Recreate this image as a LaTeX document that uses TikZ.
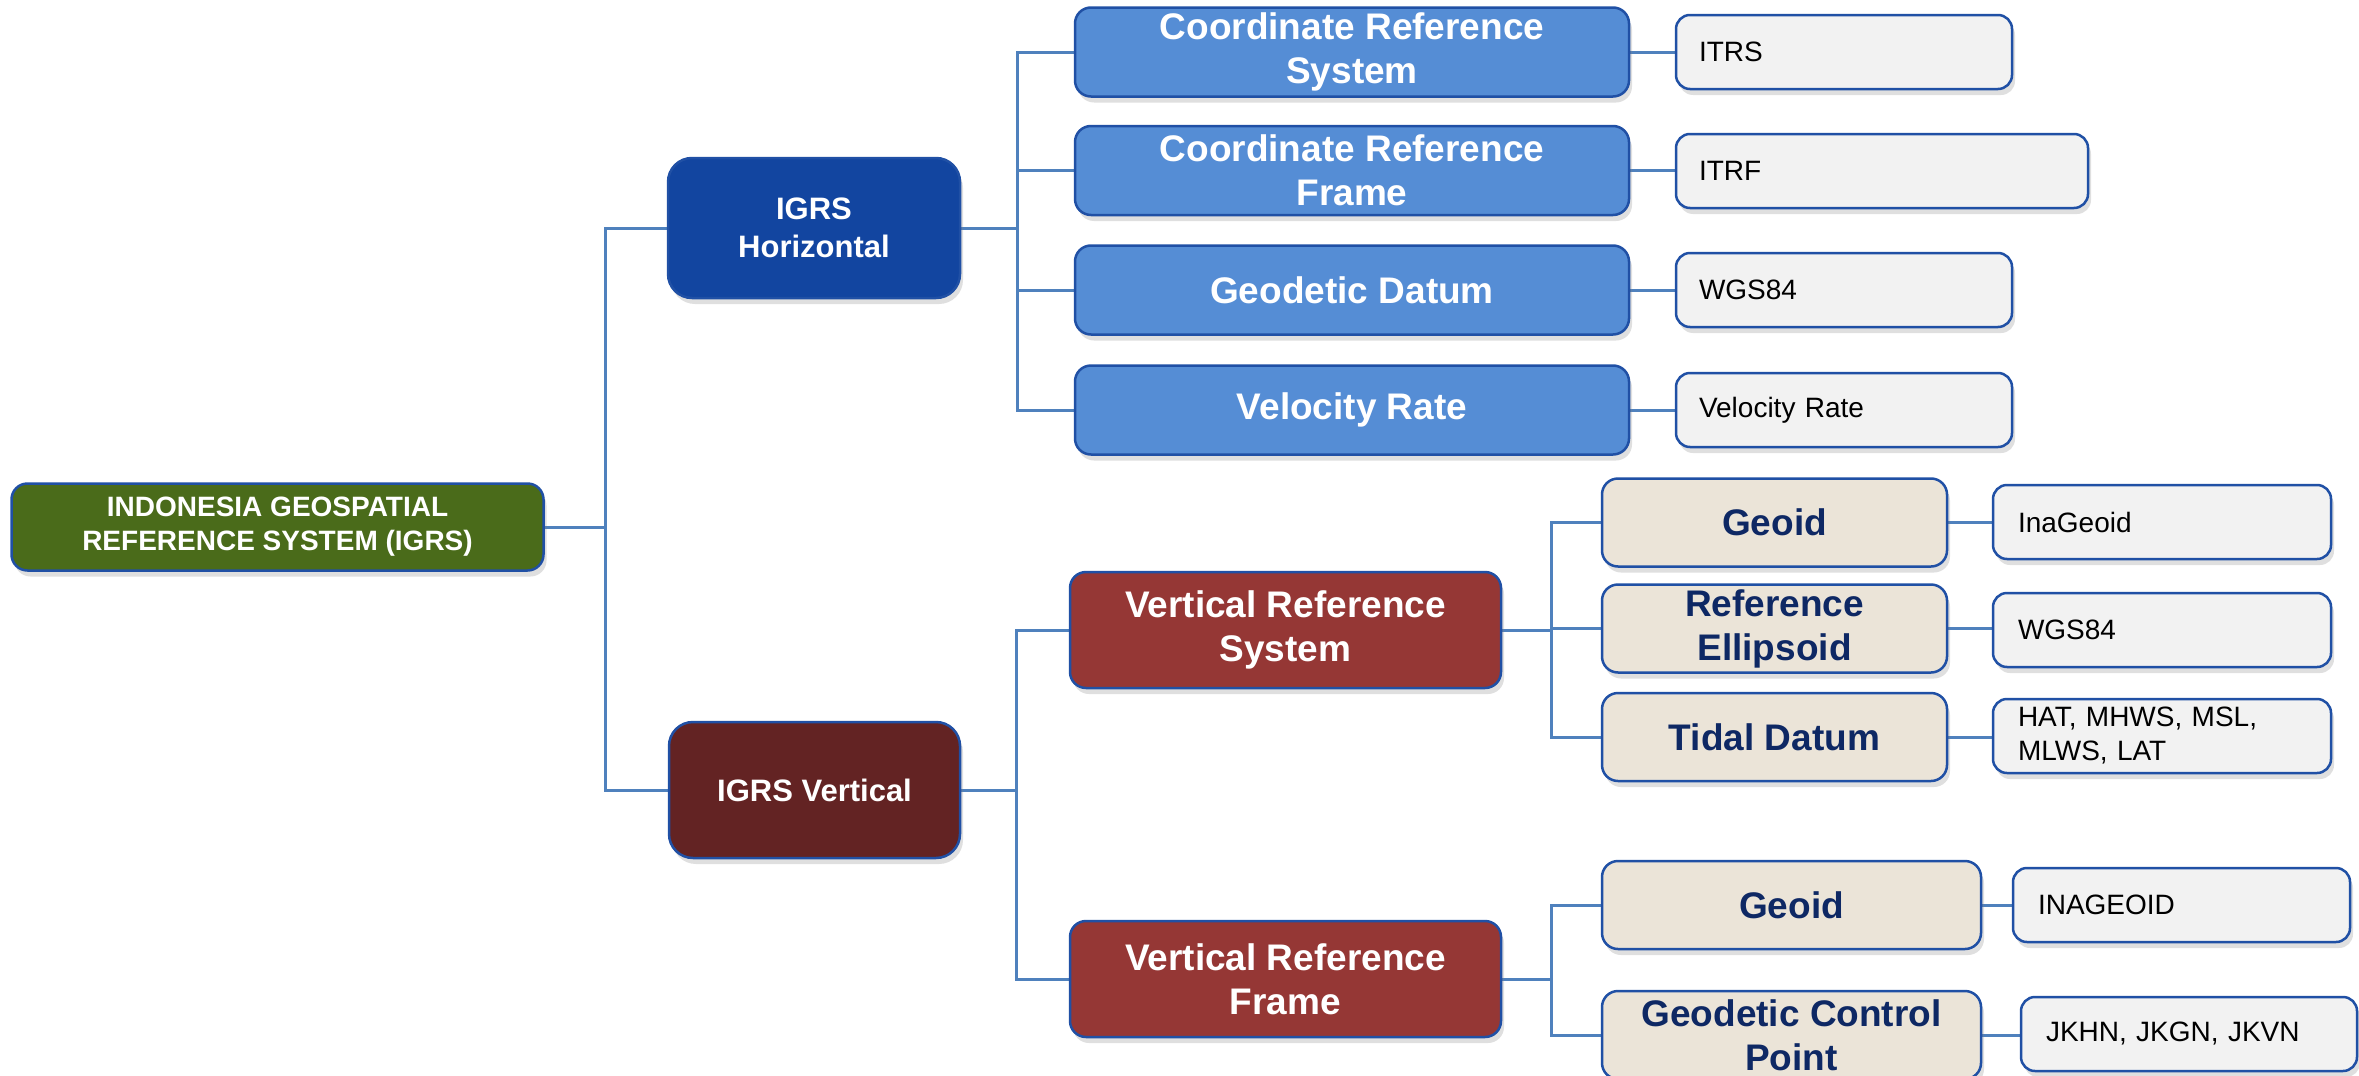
\documentclass[tikz,border=0pt]{standalone}
\usepackage{fontspec}
\setmainfont{Liberation Sans}
\usetikzlibrary{shadows,backgrounds}
\definecolor{bordblue}{RGB}{32,80,165}
\definecolor{linkblue}{RGB}{79,129,189}
\definecolor{rootgreen}{RGB}{74,107,26}
\definecolor{horblue}{RGB}{18,69,160}
\definecolor{vermaroon}{RGB}{99,35,35}
\definecolor{lightblue}{RGB}{85,141,213}
\definecolor{redbrown}{RGB}{149,55,53}
\definecolor{beige}{RGB}{235,228,216}
\definecolor{palegray}{RGB}{242,242,242}
\definecolor{navytext}{RGB}{14,40,100}
\tikzset{
  box/.style={draw=bordblue, line width=2.5pt, rounded corners=16pt, inner sep=0pt,
    align=center, drop shadow={opacity=0.25, shadow xshift=3pt, shadow yshift=-6pt}},
  rootbox/.style={box, fill=rootgreen, text=white, font=\fontsize{28}{34}\selectfont\bfseries},
  igrsbox/.style={box, rounded corners=24pt, text=white, font=\fontsize{31}{38}\selectfont\bfseries},
  bluebox/.style={box, fill=lightblue, text=white, minimum width=554pt, minimum height=89pt,
    font=\fontsize{37}{44}\selectfont\bfseries},
  redbox/.style={box, fill=redbrown, text=white, minimum width=431pt, minimum height=116pt,
    font=\fontsize{37}{44}\selectfont\bfseries},
  beigebox/.style={box, fill=beige, text=navytext, minimum height=88pt,
    font=\fontsize{37}{44}\selectfont\bfseries},
  graybox/.style={box, rounded corners=14pt, fill=palegray, text=black, minimum height=74pt,
    align=left, font=\fontsize{28}{34}\selectfont},
  conn/.style={draw=linkblue, line width=3pt}
}
\begin{document}
\begin{tikzpicture}[x=1pt,y=-1pt]
\useasboundingbox (0,0) rectangle (2359,1076);
% level 0
\node[rootbox, minimum width=532pt, minimum height=87pt] (root) at (277.5,527) {INDONESIA GEOSPATIAL\\REFERENCE SYSTEM (IGRS)};
% level 1
\node[igrsbox, fill=horblue, minimum width=292pt, minimum height=140pt] (hor) at (814,228) {IGRS\\Horizontal};
\node[igrsbox, fill=vermaroon, minimum width=291pt, minimum height=136pt] (ver) at (814.5,790) {IGRS Vertical};
% horizontal branch
\node[bluebox] (crs) at (1352,52) {Coordinate Reference\\System};
\node[bluebox] (crf) at (1352,170.5) {Coordinate Reference\\Frame};
\node[bluebox] (gd) at (1352,290) {Geodetic Datum};
\node[bluebox] (vr) at (1352,410) {Velocity Rate};
\node[graybox, minimum width=336pt, text width=290pt] (itrs) at (1844,52) {ITRS};
\node[graybox, minimum width=412pt, text width=366pt] (itrf) at (1882,171) {ITRF};
\node[graybox, minimum width=336pt, text width=290pt] (wgsa) at (1844,290) {WGS84};
\node[graybox, minimum width=336pt, text width=290pt] (vrg) at (1844,410) {Velocity Rate};
% vertical branch
\node[redbox] (vrs) at (1285.5,630) {Vertical Reference\\System};
\node[redbox] (vrf) at (1285.5,979) {Vertical Reference\\Frame};
\node[beigebox, minimum width=345pt] (geoa) at (1774.5,522.5) {Geoid};
\node[beigebox, minimum width=345pt] (refell) at (1774.5,628.5) {Reference\\Ellipsoid};
\node[beigebox, minimum width=345pt] (tidal) at (1774.5,737) {Tidal Datum};
\node[beigebox, minimum width=379pt] (geob) at (1791.5,905) {Geoid};
\node[beigebox, minimum width=379pt] (gcp) at (1791.5,1035) {Geodetic Control\\Point};
\node[graybox, minimum width=338pt, text width=288pt] (inaa) at (2162,522) {InaGeoid};
\node[graybox, minimum width=338pt, text width=288pt] (wgsb) at (2162,630) {WGS84};
\node[graybox, minimum width=338pt, text width=288pt] (hat) at (2162,736) {HAT, MHWS, MSL,\\MLWS, LAT};
\node[graybox, minimum width=337pt, text width=287pt] (inab) at (2181.5,905) {INAGEOID};
\node[graybox, minimum width=336pt, text width=286pt] (jk) at (2189,1034) {JKHN, JKGN, JKVN};
% trunks
\coordinate (t0) at (605,0);
\coordinate (t1) at (1017,0);
\coordinate (t2) at (1016,0);
\coordinate (t3) at (1551,0);
\begin{scope}[on background layer]
\fill[white] (0,0) rectangle (2359,1076);
\draw[conn] (root.east) -- (root.east -| t0) |- (hor.west);
\draw[conn] (root.east -| t0) |- (ver.west);
\draw[conn] (hor.east) -- (hor.east -| t1) |- (crs.west);
\draw[conn] (hor.east -| t1) |- (crf.west);
\draw[conn] (hor.east -| t1) |- (gd.west);
\draw[conn] (hor.east -| t1) |- (vr.west);
\draw[conn] (crs.east) -- (crs.east -| itrs.west);
\draw[conn] (crf.east) -- (crf.east -| itrf.west);
\draw[conn] (gd.east) -- (gd.east -| wgsa.west);
\draw[conn] (vr.east) -- (vr.east -| vrg.west);
\draw[conn] (ver.east) -- (ver.east -| t2) |- (vrs.west);
\draw[conn] (ver.east -| t2) |- (vrf.west);
\draw[conn] (vrs.east) -- (vrs.east -| t3) |- (geoa.west);
\draw[conn] (vrs.east -| t3) |- (refell.west);
\draw[conn] (vrs.east -| t3) |- (tidal.west);
\draw[conn] (vrf.east) -- (vrf.east -| t3) |- (geob.west);
\draw[conn] (vrf.east -| t3) |- (gcp.west);
\draw[conn] (geoa.east) -- (geoa.east -| inaa.west);
\draw[conn] (refell.east) -- (refell.east -| wgsb.west);
\draw[conn] (tidal.east) -- (tidal.east -| hat.west);
\draw[conn] (geob.east) -- (geob.east -| inab.west);
\draw[conn] (gcp.east) -- (gcp.east -| jk.west);
\end{scope}
\end{tikzpicture}
\end{document}
